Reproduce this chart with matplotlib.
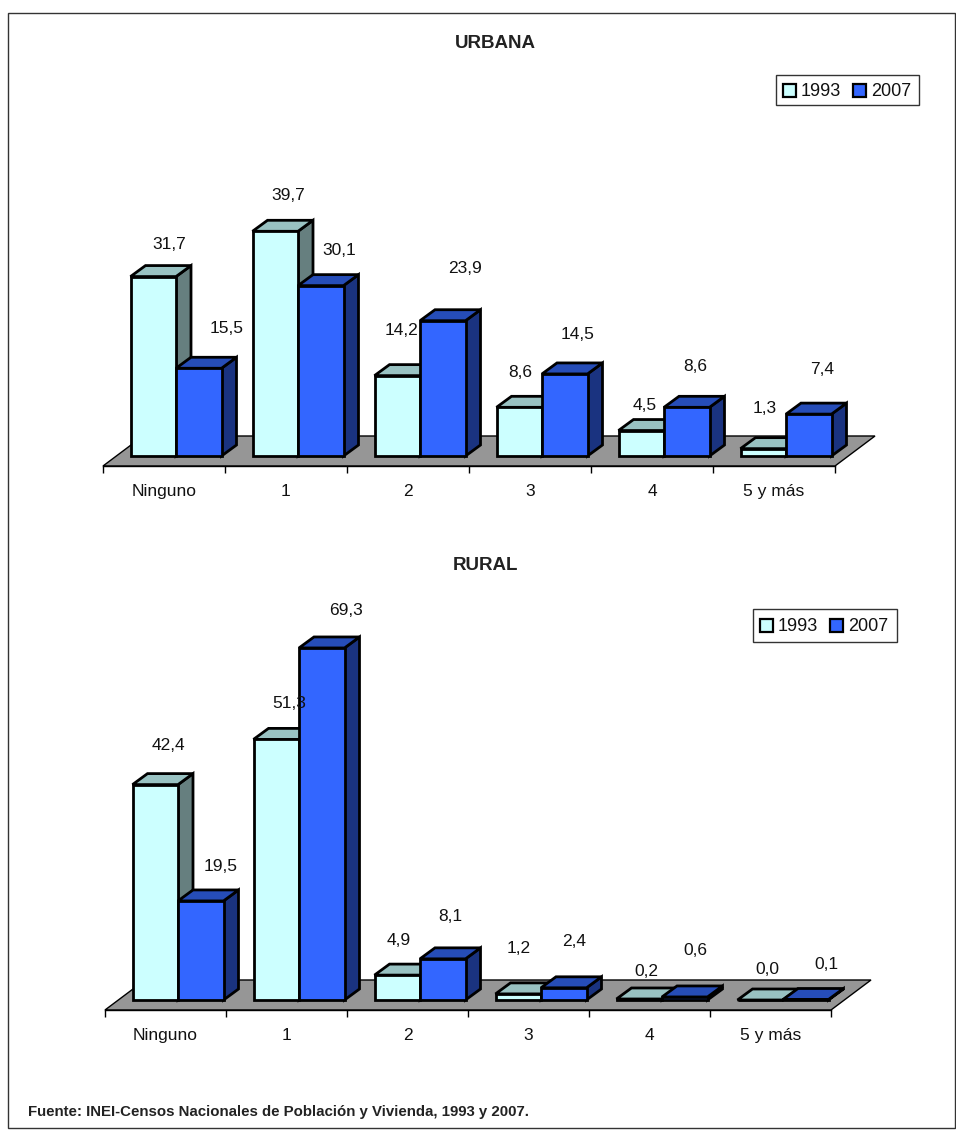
import matplotlib
matplotlib.use('Agg')
import matplotlib.pyplot as plt
from matplotlib.patches import Polygon, Rectangle

W, H = 956, 1139
plt.rcParams['font.family'] = ['Liberation Sans', 'DejaVu Sans']

# ---- data
categories = ['Ninguno', '1', '2', '3', '4', '5 y más']
years = ['1993', '2007']
urbana_1993 = [31.7, 39.7, 14.2, 8.6, 4.5, 1.3]
urbana_2007 = [15.5, 30.1, 23.9, 14.5, 8.6, 7.4]
rural_1993 = [42.4, 51.3, 4.9, 1.2, 0.2, 0.0]
rural_2007 = [19.5, 69.3, 8.1, 2.4, 0.6, 0.1]

c_front = ['#ccffff', '#3366ff']
c_top = ['#99c2c2', '#264db8']
c_side = ['#667f7f', '#1a3380']


def panel(left, right, base, top, per_unit, v1, v2, label_pos):
    # axes in category units / percent, zero line sits on the bar bottoms
    ax = fig.add_axes([left / W, 1 - base / H, (right - left) / W, (base - top) / H])
    ax.set_xlim(0, 6)
    ax.set_ylim(0, (base - top) / per_unit)
    ax.patch.set_visible(False)
    cw = (right - left) / 6
    dx_bar, dy_bar = 15 / cw, 11 / per_unit
    dx_fl, dy_fl = 40 / cw, 30 / per_unit
    drop = 10 / per_unit

    floor = [(0, -drop), (6, -drop), (6 + dx_fl, -drop + dy_fl), (dx_fl, -drop + dy_fl)]
    ax.add_patch(Polygon(floor, fc='#969696', ec='black', lw=1, clip_on=False, zorder=1))

    w = 45.5 / cw
    off = 27.5 / cw
    for i in range(6):
        for s, vals in enumerate([v1, v2]):
            x0 = i + off + s * w
            x1 = x0 + w
            v = vals[i]
            lw = 2
            side = [(x1, 0), (x1 + dx_bar, dy_bar), (x1 + dx_bar, v + dy_bar), (x1, v)]
            roof = [(x0, v), (x0 + dx_bar, v + dy_bar), (x1 + dx_bar, v + dy_bar), (x1, v)]
            z = 3 + i * 2 + s
            ax.add_patch(Polygon(side, fc=c_side[s], ec='black', lw=lw, clip_on=False, zorder=z, joinstyle='miter'))
            ax.add_patch(Polygon(roof, fc=c_top[s], ec='black', lw=lw, clip_on=False, zorder=z, joinstyle='miter'))
            ax.bar(x0, v, w, align='edge', color=c_front[s], edgecolor='black', lw=lw, zorder=z, clip_on=False)
            lx, ly = label_pos[s][i]
            ax.text(x0 + w / 2 + lx / cw, v + ly / per_unit, f'{v:.1f}'.replace('.', ','),
                    ha='center', va='center', fontsize=12.5, color='#111111', zorder=40)

    for sp in ['top', 'left', 'right']:
        ax.spines[sp].set_visible(False)
    ax.spines['bottom'].set_position(('outward', 7.2))
    ax.spines['bottom'].set_linewidth(1)
    ax.spines['bottom'].set_zorder(2)
    ax.set_yticks([])
    ax.set_xticks(range(7))
    ax.set_xticklabels([])
    ax.set_xticks([i + 0.5 for i in range(6)], minor=True)
    ax.set_xticklabels(categories, minor=True, fontsize=12.5, color='#111111')
    ax.tick_params(axis='x', which='major', length=5, width=1)
    ax.tick_params(axis='x', which='minor', length=0, pad=13)
    return ax


def legend(x0, y0, x1, y1, off2):
    fig.add_artist(Rectangle((x0 / W, 1 - y1 / H), (x1 - x0) / W, (y1 - y0) / H, fc='white', ec='#333333', lw=1,
                             transform=fig.transFigure, zorder=5))
    my = (y0 + y1) / 2
    for s, yr in enumerate(years):
        bx = x0 + 7 + s * off2
        fig.add_artist(Rectangle((bx / W, 1 - (my + 6.5) / H), 13 / W, 13 / H, fc=c_front[s], ec='black', lw=1.6,
                                 transform=fig.transFigure, zorder=6))
        fig.text((bx + 18) / W, 1 - (my + 1) / H, yr, fontsize=13, va='center', ha='left', color='#111111', zorder=6)


fig = plt.figure(figsize=(W / 100, H / 100), dpi=100)

# outer frame
fig.add_artist(Rectangle((8 / W, 1 - 1128 / H), 947 / W, 1115 / H, fc='white', ec='#333333', lw=1,
                         transform=fig.transFigure, zorder=-1))

# label offsets in px (x from bar centre, y above the value top)
urb_pos = [[(16, 32), (13, 36), (4, 45), (1, 35), (3, 25), (1, 40)],
           [(28, 40), (18, 35), (22, 52), (13, 39), (9, 41), (13, 45)]]
rur_pos = [[(13, 39), (13, 36), (1, 35), (0, 45), (7, 27), (7, 30)],
           [(20, 34), (24, 37), (8, 42), (10, 46), (11, 46), (21, 35)]]

panel(103, 835, 456, 136, 5.66, urbana_1993, urbana_2007, urb_pos)
panel(105, 831, 1000, 600, 5.08, rural_1993, rural_2007, rur_pos)

fig.text(495 / W, 1 - 43 / H, 'URBANA', fontsize=13.5, fontweight='bold', ha='center', va='center', color='#222222')
fig.text(486 / W, 1 - 565 / H, 'RURAL', fontsize=13.5, fontweight='bold', ha='center', va='center', color='#222222')
fig.text(28 / W, 1 - 1112 / H, 'Fuente: INEI-Censos Nacionales de Población y Vivienda, 1993 y 2007.', fontsize=10.8,
         fontweight='bold', ha='left', va='center', color='#222222')

legend(776, 75, 919, 105, 70)
legend(753, 609, 897, 642, 70)

fig.savefig('out.png', dpi=100)
